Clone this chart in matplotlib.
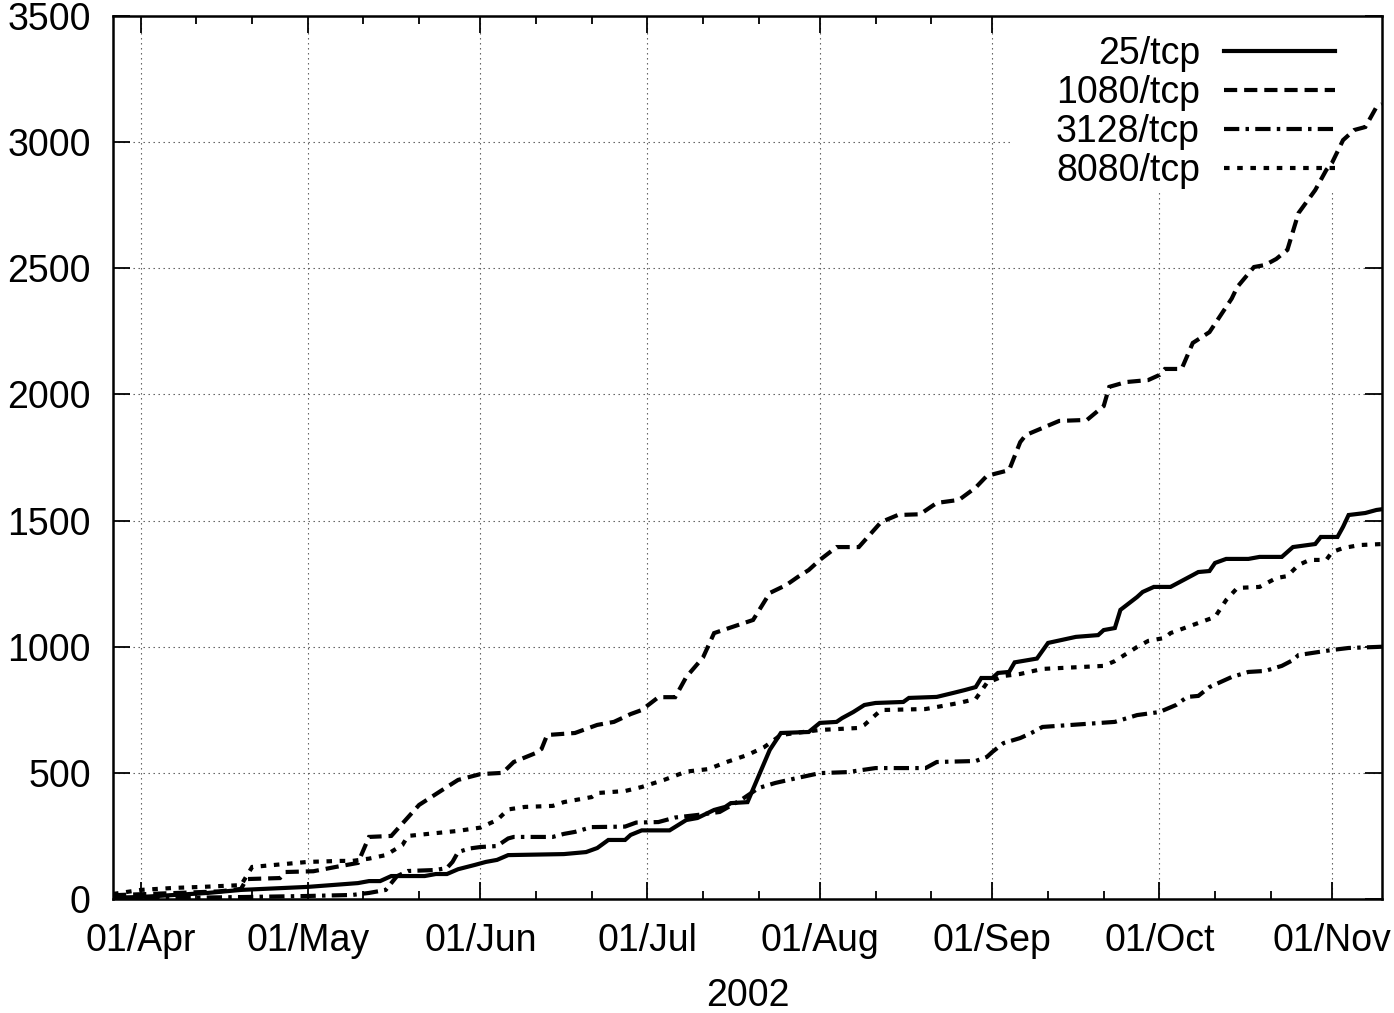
import matplotlib
matplotlib.use("Agg")
import matplotlib.pyplot as plt
import matplotlib.dates as mdates
from matplotlib.patches import Rectangle
import pandas as pd

# ---------------- data ----------------
series_labels = ["25/tcp", "1080/tcp", "3128/tcp", "8080/tcp"]

dates_25 = ["2002-03-27","2002-04-01","2002-04-13","2002-04-19","2002-05-01","2002-05-10","2002-05-12","2002-05-14",
            "2002-05-16","2002-05-22","2002-05-24","2002-05-26","2002-05-28","2002-05-31","2002-06-02","2002-06-04",
            "2002-06-06","2002-06-16","2002-06-20","2002-06-22","2002-06-24","2002-06-27","2002-06-28","2002-06-30",
            "2002-07-05","2002-07-08","2002-07-10","2002-07-13","2002-07-15","2002-07-16","2002-07-19","2002-07-23",
            "2002-07-25","2002-07-30","2002-08-01","2002-08-04","2002-08-05","2002-08-07","2002-08-09","2002-08-11",
            "2002-08-16","2002-08-17","2002-08-22","2002-08-25","2002-08-27","2002-08-29","2002-08-30","2002-09-01",
            "2002-09-02","2002-09-04","2002-09-05","2002-09-09","2002-09-11","2002-09-16","2002-09-20","2002-09-21",
            "2002-09-23","2002-09-24","2002-09-27","2002-09-28","2002-09-30","2002-10-03","2002-10-07","2002-10-08",
            "2002-10-10","2002-10-11","2002-10-13","2002-10-17","2002-10-19","2002-10-23","2002-10-25","2002-10-29",
            "2002-10-30","2002-11-02","2002-11-03","2002-11-04","2002-11-07","2002-11-09","2002-11-10"]
vals_25 = [5, 8, 24, 36, 48, 63, 71, 71, 91, 91, 99, 99, 118, 135, 147, 155, 174, 178, 186, 202,
           234, 234, 254, 272, 272, 313, 321, 353, 365, 380, 384, 591, 658, 662, 698, 702, 717, 741, 769, 777,
           781, 797, 801, 817, 828, 840, 876, 876, 896, 900, 938, 953, 1015, 1039, 1046, 1066, 1074, 1146, 1197, 1217,
           1237, 1237, 1284, 1296, 1300, 1332, 1348, 1348, 1356, 1356, 1395, 1407, 1435, 1435, 1475, 1522, 1530, 1542, 1545]

dates_1080 = ["2002-03-27","2002-04-05","2002-04-15","2002-04-19","2002-04-20","2002-04-26","2002-04-27","2002-05-02",
              "2002-05-06","2002-05-10","2002-05-12","2002-05-16","2002-05-21","2002-05-26","2002-05-28","2002-06-01",
              "2002-06-05","2002-06-07","2002-06-11","2002-06-12","2002-06-13","2002-06-18","2002-06-22","2002-06-25",
              "2002-06-28","2002-06-30","2002-07-03","2002-07-06","2002-07-08","2002-07-11","2002-07-13","2002-07-20",
              "2002-07-23","2002-07-26","2002-07-28","2002-07-30","2002-08-01","2002-08-04","2002-08-08","2002-08-12",
              "2002-08-15","2002-08-19","2002-08-22","2002-08-26","2002-08-29","2002-08-31","2002-09-04","2002-09-06",
              "2002-09-07","2002-09-10","2002-09-13","2002-09-18","2002-09-21","2002-09-22","2002-09-25","2002-09-29",
              "2002-10-01","2002-10-02","2002-10-05","2002-10-07","2002-10-10","2002-10-14","2002-10-15","2002-10-18",
              "2002-10-20","2002-10-22","2002-10-24","2002-10-26","2002-10-29","2002-10-31","2002-11-01","2002-11-03",
              "2002-11-05","2002-11-07","2002-11-09","2002-11-10"]
vals_1080 = [15, 22, 30, 40, 79, 83, 107, 110, 127, 143, 246, 250, 373, 444, 472, 495, 500, 543, 579, 595,
             650, 658, 690, 702, 733, 749, 800, 800, 880, 957, 1054, 1106, 1213, 1245, 1276, 1304, 1344, 1395, 1395, 1494,
             1522, 1525, 1570, 1582, 1631, 1677, 1700, 1811, 1839, 1867, 1895, 1899, 1954, 2030, 2049, 2057, 2077, 2101,
             2101, 2204, 2247, 2380, 2426, 2505, 2513, 2537, 2573, 2719, 2810, 2890, 2917, 3008, 3048, 3060, 3139, 3150]

dates_3128 = ["2002-03-27","2002-04-10","2002-04-20","2002-05-01","2002-05-09","2002-05-12","2002-05-15","2002-05-17",
              "2002-05-19","2002-05-24","2002-05-26","2002-05-27","2002-05-28","2002-05-30","2002-06-01","2002-06-04",
              "2002-06-06","2002-06-07","2002-06-14","2002-06-16","2002-06-18","2002-06-21","2002-06-27","2002-06-29",
              "2002-07-03","2002-07-06","2002-07-10","2002-07-14","2002-07-18","2002-07-21","2002-07-24","2002-07-28",
              "2002-08-01","2002-08-06","2002-08-11","2002-08-20","2002-08-22","2002-08-29","2002-08-31","2002-09-01",
              "2002-09-03","2002-09-06","2002-09-08","2002-09-10","2002-09-23","2002-09-27","2002-10-01","2002-10-04",
              "2002-10-06","2002-10-08","2002-10-10","2002-10-14","2002-10-17","2002-10-20","2002-10-23","2002-10-25",
              "2002-10-26","2002-11-01","2002-11-04","2002-11-09","2002-11-10"]
vals_3128 = [3, 5, 8, 12, 16, 24, 36, 90, 111, 115, 123, 147, 186, 200, 206, 210, 240, 246, 246, 258,
             266, 285, 287, 303, 305, 323, 333, 345, 395, 440, 460, 480, 499, 503, 519, 519, 543, 547, 563, 583,
             618, 638, 658, 682, 702, 729, 741, 769, 801, 805, 840, 880, 900, 904, 924, 947, 967, 987, 995, 999, 1000]

dates_8080 = ["2002-03-27","2002-04-01","2002-04-07","2002-04-12","2002-04-19","2002-04-21","2002-04-25","2002-05-01",
              "2002-05-07","2002-05-09","2002-05-12","2002-05-15","2002-05-18","2002-05-19","2002-05-28","2002-06-01",
              "2002-06-04","2002-06-06","2002-06-09","2002-06-14","2002-06-16","2002-06-20","2002-06-21","2002-06-22",
              "2002-06-27","2002-06-30","2002-07-04","2002-07-08","2002-07-12","2002-07-15","2002-07-19","2002-07-22",
              "2002-07-25","2002-07-29","2002-08-01","2002-08-08","2002-08-09","2002-08-12","2002-08-20","2002-08-26",
              "2002-08-29","2002-08-31","2002-09-03","2002-09-06","2002-09-10","2002-09-21","2002-09-23","2002-09-27",
              "2002-09-29","2002-10-02","2002-10-03","2002-10-08","2002-10-11","2002-10-13","2002-10-15","2002-10-19",
              "2002-10-22","2002-10-24","2002-10-26","2002-10-28","2002-10-31","2002-11-01","2002-11-03","2002-11-06",
              "2002-11-10"]
vals_8080 = [20, 36, 44, 48, 55, 127, 135, 147, 151, 151, 160, 174, 214, 250, 270, 283, 313, 355, 365, 369,
             384, 400, 404, 420, 428, 444, 472, 505, 515, 541, 571, 602, 650, 662, 670, 678, 690, 749, 753, 777,
             793, 856, 884, 892, 912, 924, 943, 999, 1023, 1035, 1054, 1094, 1118, 1185, 1233, 1237, 1272, 1280, 1324, 1344,
             1344, 1375, 1391, 1403, 1407]

x_range = ["2002-03-27", "2002-11-10"]
y_ticks = [0, 500, 1000, 1500, 2000, 2500, 3000, 3500]
x_label = "2002"

# ---------------- styling ----------------
plt.rcParams["font.family"] = ["Liberation Sans", "DejaVu Sans"]
plt.rcParams["lines.scale_dashes"] = False

W, H = 1394, 1013
fig = plt.figure(figsize=(W / 100, H / 100), dpi=100)
L, R, T, B = 113, 1382, 16, 899
ax = fig.add_axes([L / W, 1 - B / H, (R - L) / W, (B - T) / H])

FS = 27
lw = 3.0
styles = [
    "-",
    (0, (9.5, 5.0)),
    (0, (11.0, 4.5, 2.5, 4.5)),
    (0, (4.0, 5.5)),
]
all_dates = [dates_25, dates_1080, dates_3128, dates_8080]
all_vals = [vals_25, vals_1080, vals_3128, vals_8080]

for d, v, lab, ls in zip(all_dates, all_vals, series_labels, styles):
    ax.plot(pd.to_datetime(d), v, color="black", lw=lw, linestyle=ls, label=lab,
            zorder=3, solid_joinstyle="miter", dash_joinstyle="miter")

ax.set_xlim(pd.to_datetime(x_range[0]), pd.to_datetime(x_range[1]))
ax.set_ylim(y_ticks[0], y_ticks[-1])
ax.set_yticks(y_ticks)

ax.xaxis.set_major_locator(mdates.MonthLocator())
ax.xaxis.set_minor_locator(mdates.DayLocator(bymonthday=[11, 21]))
ax.xaxis.set_major_formatter(mdates.DateFormatter("%d/%b"))

ax.set_axisbelow(True)
ax.grid(True, which="major", color="#555555", linestyle=(0, (1.0, 2.6)), lw=0.8)

ax.tick_params(which="both", direction="in", top=True, right=True, width=1.3, labelsize=FS, colors="black")
ax.tick_params(which="major", length=12)
ax.tick_params(which="minor", length=6)
ax.tick_params(axis="x", which="major", pad=17)
ax.tick_params(axis="y", which="major", pad=16)
for s in ax.spines.values():
    s.set_linewidth(1.8)

ax.set_xlabel(x_label, fontsize=FS, labelpad=14)

# white key area hiding the grid (as in gnuplot)
ax.add_patch(Rectangle(((1012 - L) / (R - L), (B - 190) / (B - T)), (R - 1012) / (R - L), (190 - T) / (B - T),
                       transform=ax.transAxes, facecolor="white", edgecolor="none", zorder=1))

leg = ax.legend(loc="upper right", bbox_to_anchor=((1335 - L) / (R - L), (B - 36) / (B - T)),
                markerfirst=False, frameon=False, fontsize=FS, handlelength=2.95, handletextpad=0.65,
                borderpad=0, borderaxespad=0, labelspacing=0.08)

fig.savefig("out.png", dpi=100)
